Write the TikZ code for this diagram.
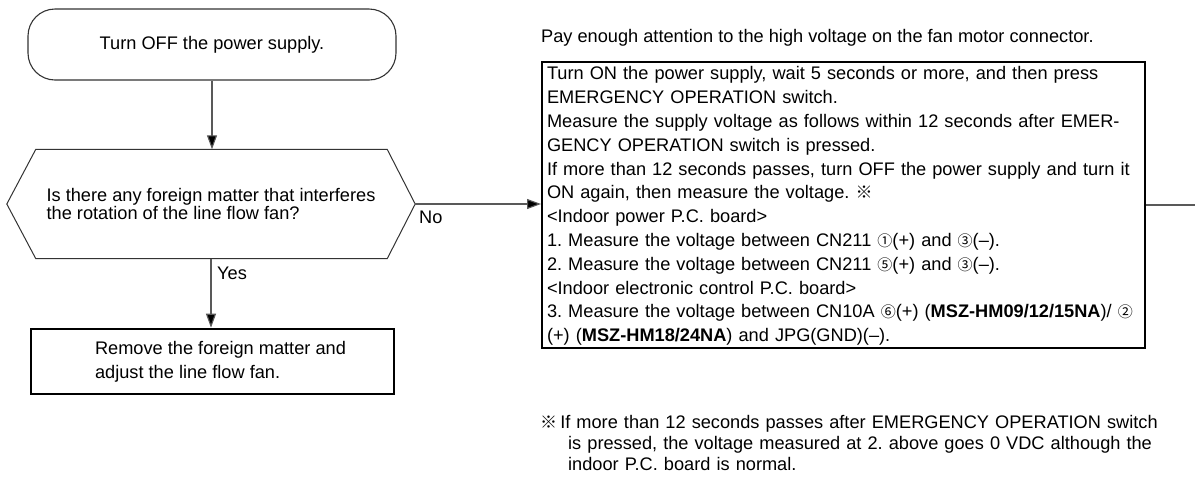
\documentclass[tikz,border=0pt]{standalone}
\usepackage{fontspec}
\setmainfont{Liberation Sans}
\newfontfamily\cjk{Noto Sans CJK JP}
\usetikzlibrary{arrows.meta}
\newcommand{\cnum}[1]{{\cjk\fontsize{15}{15}\selectfont #1}}
\newcommand{\refmark}{{\cjk\fontsize{17}{17}\selectfont ※}}
\frenchspacing
\begin{document}
\begin{tikzpicture}[x=1pt,y=-1pt,
  txt/.style={font=\fontsize{18.2}{23.8}\selectfont},
  conn/.style={draw=black!65, line width=1.1pt},
  arr/.style={conn, -{Triangle[length=14pt,width=10pt,fill=black]}},
  term/.style={draw=black!80, line width=1.1pt, rounded corners=27pt, minimum width=368pt, minimum height=71pt, inner sep=0pt, txt},
  hexline/.style={draw=black!80, line width=1pt},
  actbox/.style={draw=black, line width=2.6pt, minimum width=363pt, minimum height=65pt, inner sep=0pt, font=\fontsize{18.2}{24}\selectfont, align=left},
  bigbox/.style={draw=black, line width=2pt, anchor=north west, text width=593pt, inner xsep=5pt, inner ysep=0pt, minimum height=286pt, txt, align=left}
]
\useasboundingbox (0,0) rectangle (1195,483);

\node[term] (t) at (212,44.5) {Turn OFF the power supply.};

\node[font=\fontsize{18.2}{18}\selectfont, align=left, minimum width=408pt, minimum height=109pt, inner sep=0pt] (q) at (211,204)
  {Is there any foreign matter that interferes\\the rotation of the line flow fan?};
\draw[hexline] (q.west) -- ([xshift=29pt]q.north west) -- ([xshift=-28pt]q.north east) -- (q.east)
  -- ([xshift=-28pt]q.south east) -- ([xshift=29pt]q.south west) -- cycle;

\node[actbox] (r) at (212.5,361.5) {\hspace*{16pt}Remove the foreign matter and\\\hspace*{16pt}adjust the line flow fan.};

\node[txt, anchor=base west, inner sep=0pt] (note) at (541,42) {Pay enough attention to the high voltage on the fan motor connector.};

\node[bigbox] (b) at (541,61) {\rule{0pt}{15.5pt}Turn ON the power supply, wait 5 seconds or more, and then press\\
EMERGENCY OPERATION switch.\\
Measure the supply voltage as follows within 12 seconds after EMER-\\
GENCY OPERATION switch is pressed.\\
\mbox{If more than 12 seconds passes, turn OFF the power supply and turn it}\\
ON again, then measure the voltage. \refmark\\
<Indoor power P.C. board>\\
1. Measure the voltage between CN211 \cnum{①}(+) and \cnum{③}(–).\\
2. Measure the voltage between CN211 \cnum{⑤}(+) and \cnum{③}(–).\\
<Indoor electronic control P.C. board>\\
\mbox{3. Measure the voltage between CN10A \cnum{⑥}(+) (\textbf{MSZ-HM09/12/15NA})/ \cnum{②}}\\
(+) (\textbf{MSZ-HM18/24NA}) and JPG(GND)(–).};

\node[font=\fontsize{18.2}{21}\selectfont, anchor=base west, text width=640pt, align=left, inner sep=0pt] (fn) at (540,428.5)
  {\refmark\hspace{-3pt} If more than 12 seconds passes after EMERGENCY OPERATION switch\\
  \hspace*{28pt}is pressed, the voltage measured at 2. above goes 0 VDC although the\\
  \hspace*{28pt}indoor P.C. board is normal.};

\coordinate (e) at (1195,0);

\draw[arr] (t.south) -- (t.south |- q.north);
\draw[arr] (q.east) -- (q.east -| b.west);
\draw[arr] (q.south) -- (q.south |- r.north);
\draw[conn] (b.east) -- (b.east -| e);

\node[txt, anchor=west, inner sep=0pt] (no) at (419,217) {No};
\node[txt, anchor=west, inner sep=0pt] (yes) at (217,273) {Yes};
\end{tikzpicture}
\end{document}
